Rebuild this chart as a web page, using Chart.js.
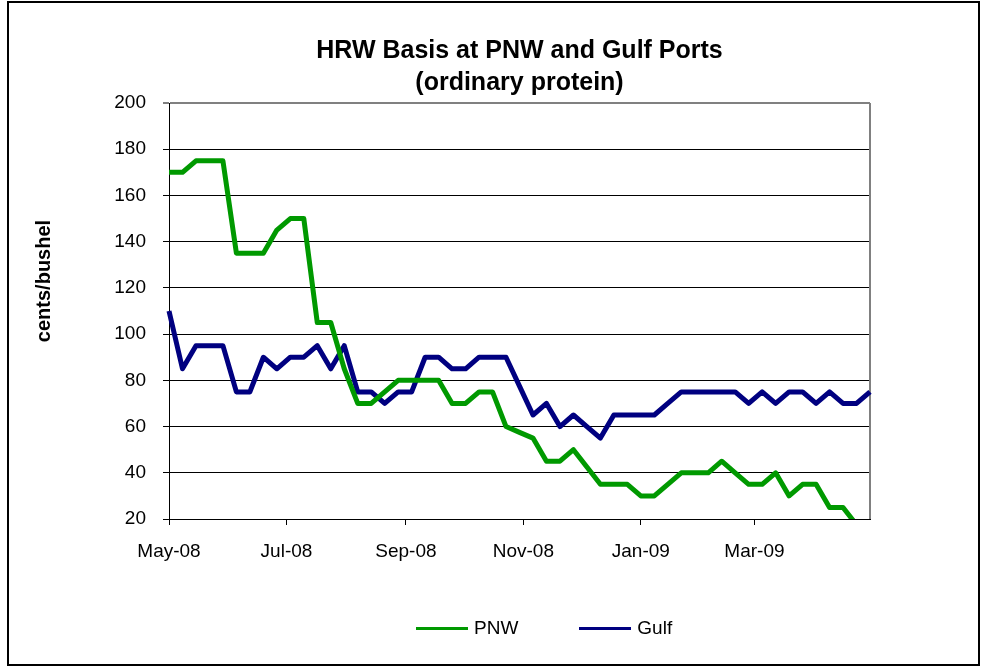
<!DOCTYPE html>
<html>
<head>
<meta charset="utf-8">
<title>HRW Basis at PNW and Gulf Ports</title>
<script src="https://cdn.jsdelivr.net/npm/chart.js@4.4.1/dist/chart.umd.min.js"></script>
<style>
  html, body { margin: 0; padding: 0; background: #fff; overflow: hidden; }
  #wrap { position: relative; width: 983px; height: 671px; }
  #chart { position: absolute; left: 0; top: 0; }
  #frame { position: absolute; left: 7px; top: 1px; width: 973px; height: 665px;
           border: 2px solid #000; box-sizing: border-box; pointer-events: none; }
  #legend { position: absolute; left: 416px; top: 616px; height: 24px; display: flex; align-items: center;
            font: 19px "Liberation Sans", Arial, sans-serif; color: #000; }
  .item { display: flex; align-items: center; }
  .item + .item { margin-left: 61px; }
  .swatch { width: 52px; height: 3px; margin-right: 6px; }
</style>
</head>
<body>
<div id="wrap">
  <canvas id="chart" width="983" height="671"></canvas>
  <div id="frame"></div>
  <div id="legend"></div>
</div>
<script>
// weekly series, first week = May 1 2008
const START = '2008-05-01';
const tickDates = ['2008-05-01', '2008-07-01', '2008-09-01', '2008-11-01', '2009-01-01', '2009-03-01'];
const tickLabels = ['May-08', 'Jul-08', 'Sep-08', 'Nov-08', 'Jan-09', 'Mar-09'];

const pnw = [170, 170, 175, 175, 175, 135, 135, 135, 145, 150,
             150, 105, 105, 85, 70, 70, 75, 80, 80, 80,
             80, 70, 70, 75, 75, 60, 57.5, 55, 45, 45,
             50, 42.5, 35, 35, 35, 30, 30, 35, 40, 40,
             40, 45, 40, 35, 35, 40, 30, 35, 35, 25,
             25, 17.5, null];
const gulf = [110, 85, 95, 95, 95, 75, 75, 90, 85, 90,
              90, 95, 85, 95, 75, 75, 70, 75, 75, 90,
              90, 85, 85, 90, 90, 90, 77.5, 65, 70, 60,
              65, 60, 55, 65, 65, 65, 65, 70, 75, 75,
              75, 75, 75, 70, 75, 70, 75, 75, 70, 75,
              70, 70, 75];

const titleLines = ['HRW Basis at PNW and Gulf Ports', '(ordinary protein)'];
const yTitle = 'cents/bushel';

const FONT = '"Liberation Sans", Arial, sans-serif';
const DAY = 86400000;
const dayOf = s => Math.round((Date.parse(s) - Date.parse(START)) / DAY);
const tickDays = tickDates.map(dayOf);
const weekDays = gulf.map((_, i) => i * 7);

const toPoints = arr => arr.map((v, i) => ({ x: weekDays[i], y: v }));

// y title + gray plot border on the right
const extras = {
    id: 'extras',
    beforeDatasetsDraw(chart) {
        const { ctx, chartArea: a } = chart;
        ctx.save();
        ctx.strokeStyle = '#808080';
        ctx.lineWidth = 2;
        ctx.beginPath();
        ctx.moveTo(a.right, a.top);
        ctx.lineTo(a.right, a.bottom);
        ctx.stroke();
        ctx.restore();
    },
    afterDraw(chart) {
        const ctx = chart.ctx;
        ctx.save();
        ctx.translate(44, 281);
        ctx.rotate(-Math.PI / 2);
        ctx.font = 'bold 20px ' + FONT;
        ctx.fillStyle = '#000';
        ctx.textAlign = 'center';
        ctx.textBaseline = 'middle';
        ctx.fillText(yTitle, 0, 0);
        ctx.restore();
    }
};

const lineStyle = {
    borderWidth: 5,
    pointRadius: 0,
    tension: 0,
    borderJoinStyle: 'round',
    clip: { left: 3, right: 3, top: 3, bottom: 0 }
};

const chart = new Chart(document.getElementById('chart'), {
    type: 'line',
    data: {
        datasets: [
            Object.assign({ label: 'PNW', data: toPoints(pnw), borderColor: '#009900', backgroundColor: '#009900' }, lineStyle),
            Object.assign({ label: 'Gulf', data: toPoints(gulf), borderColor: '#000080', backgroundColor: '#000080' }, lineStyle)
        ]
    },
    options: {
        responsive: false,
        animation: false,
        layout: { padding: { left: 0, right: 113, top: 0, bottom: 92 } },
        plugins: {
            legend: { display: false },
            tooltip: { enabled: false },
            title: {
                display: true,
                fullSize: false,
                text: titleLines,
                color: '#000',
                font: { family: FONT, size: 25, weight: 'bold', lineHeight: 1.28 },
                padding: { top: 35, bottom: 4 }
            }
        },
        scales: {
            x: {
                type: 'linear',
                min: 0,
                max: 364,
                afterBuildTicks: scale => { scale.ticks = tickDays.map(v => ({ value: v })); },
                afterFit: scale => { scale.height = 60; },
                ticks: {
                    autoSkip: false,
                    maxRotation: 0,
                    padding: 15,
                    color: '#000',
                    font: { family: FONT, size: 19 },
                    callback: (value, index) => tickLabels[index]
                },
                grid: { drawOnChartArea: false, tickLength: 6, color: '#000' },
                border: { color: '#000', width: 1 }
            },
            y: {
                min: 20,
                max: 200,
                afterFit: scale => { scale.width = 169; },
                ticks: {
                    stepSize: 20,
                    padding: 17,
                    color: '#000',
                    font: { family: FONT, size: 19 }
                },
                grid: {
                    tickLength: 6,
                    color: c => (c.tick && c.tick.value === 200 ? '#808080' : '#000'),
                    lineWidth: c => (c.tick && c.tick.value === 200 ? 2 : 1)
                },
                border: { color: '#000', width: 1 }
            }
        }
    },
    plugins: [extras]
});

// html legend built from the datasets
const legendEl = document.getElementById('legend');
chart.data.datasets.forEach(ds => {
    const item = document.createElement('div');
    item.className = 'item';
    const sw = document.createElement('span');
    sw.className = 'swatch';
    sw.style.background = ds.borderColor;
    const txt = document.createElement('span');
    txt.textContent = ds.label;
    item.appendChild(sw);
    item.appendChild(txt);
    legendEl.appendChild(item);
});
</script>
</body>
</html>
